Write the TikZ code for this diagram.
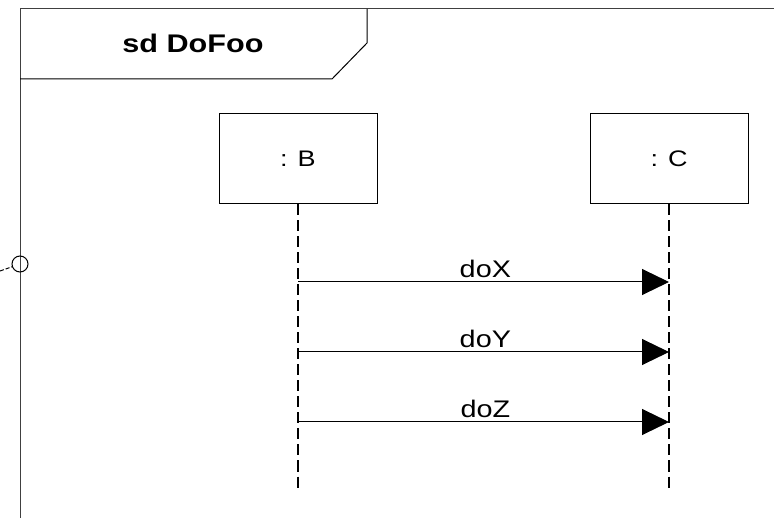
\documentclass[tikz,border=0pt]{standalone}
\usepackage{fontspec}
\setmainfont{Liberation Sans}
\newfontfamily\diagfont[FakeStretch=1.2]{Liberation Sans}
\usetikzlibrary{positioning, arrows.meta, calc}

\begin{document}
\begin{tikzpicture}[
    x=1pt, y=-1pt,
    lifebox/.style={draw, line width=1pt, minimum width=158pt, minimum height=90pt,
                    inner sep=0pt, font=\diagfont\fontsize{22.5}{26}\selectfont},
    lifeline/.style={line width=1.3pt, dash pattern=on 11pt off 5pt},
    msg/.style={line width=1pt, -{Triangle[length=27pt, width=26pt]}},
    msglabel/.style={font=\diagfont\fontsize{24}{28}\selectfont, above=0pt},
    framename/.style={font=\diagfont\bfseries\fontsize{25.5}{30}\selectfont},
]
\useasboundingbox (0,0) rectangle (774,518);

% frame and name tab
\draw[line width=1pt, black!75] (20,518) -- (20,9) -- (774,9);
\draw[line width=1pt] (20,79) -- (332,79) -- (367,43) -- (367,9);
\node[framename] (title) at (193,43) {sd DoFoo};

% gate
\node[draw, circle, line width=1pt, minimum size=16pt, inner sep=0pt] (gate) at (20,264) {};
\coordinate (gatein) at (0,271);
\draw[line width=1pt, dash pattern=on 4pt off 2pt] (gatein) -- (gate);

% lifelines
\node[lifebox] (b) at (298,159) {: B};
\node[lifebox] (c) at (669,159) {: C};
\coordinate (bend) at (b.south |- 0,488);
\coordinate (cend) at (c.south |- 0,488);
\draw[lifeline] (b.south) -- (bend);
\draw[lifeline] (c.south) -- (cend);

% messages
\foreach \name/\ypos in {doX/282, doY/352, doZ/422}{
    \coordinate (\name-from) at (b.south |- 0,\ypos);
    \coordinate (\name-to) at (c.south |- 0,\ypos);
    \draw[msg] (\name-from) -- (\name-to)
        node[msglabel, pos=0.505] {\name};
}

\end{tikzpicture}
\end{document}
